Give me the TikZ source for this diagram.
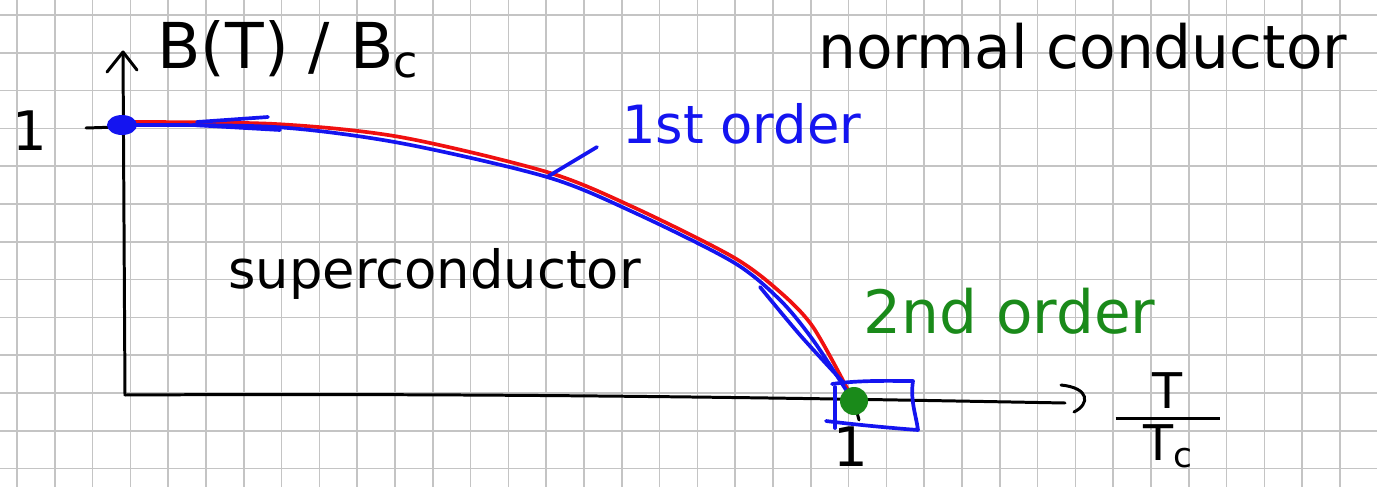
\documentclass[tikz,border=0pt]{standalone}
\usepackage{fontspec}
\setmainfont{DejaVu Sans}
\usetikzlibrary{positioning}
\definecolor{gridgray}{HTML}{C4C4C4}
\definecolor{penblue}{HTML}{1414F0}
\definecolor{penred}{HTML}{F01010}
\definecolor{pengreen}{HTML}{1A8A1A}

\begin{document}
\begin{tikzpicture}[
x=0.02cm, y=-0.02cm,
gridline/.style={draw=gridgray, line width=1pt},
pen/.style={line width=2.1pt, line cap=round, line join=round},
axis/.style={pen, draw=black, line width=1.7pt},
hand/.style={inner sep=0pt, anchor=base west},
size/.style={font=\fontsize{#1}{#1}\selectfont}
]
\useasboundingbox (0,0) rectangle (1377,487);
\fill[white] (0,0) rectangle (1377,487);
\foreach \gx in {17,54.8,...,1377}
  \draw[gridline] (\gx,0) -- (\gx,487);
\foreach \gy in {15,52.8,...,487}
  \draw[gridline] (0,\gy) -- (1377,\gy);

% axes
\coordinate (origin) at (125,395);
\coordinate (ytop) at (123,52);
\coordinate (xend) at (1065,403);
\draw[axis] (origin) -- (ytop);
\draw[axis] (107,72) -- (ytop) -- (137,70);
\draw[axis] (origin) .. controls (500,393) and (800,398) .. (xend);
\draw[axis] (1061,385) .. controls (1090,388) and (1090,404) .. (1074,412);
\draw[axis] (86,128) -- (118,127);
\draw[axis] (855,405) -- (859,420);

% labels
\node[hand, size=36] (ylabel) at (157,68) {B(T) / B\textsubscript{c}};
\node[hand, size=34] (normal) at (818,68) {normal conductor};
\node[hand, size=30] (super) at (228,288) {superconductor};
\node[hand, size=30, text=penblue] (first) at (622,143) {1st order};
\node[hand, size=34, text=pengreen] (second) at (863,333) {2nd order};
\node[hand, size=31] (yone) at (12,150) {1};
\node[hand, size=31] (xone) at (833,466) {1};
\node[size=28, inner sep=0pt] (ratio) at (1168,420)
  {\shortstack{T\\[2pt]\rule{2.1cm}{1.5pt}\\[0pt]T\textsubscript{c}}};

% transition lines
\draw[pen, penred] plot[smooth] coordinates {(128,122) (275,124) (400,137) (547,172) (633,207) (733,257) (780,292) (813,327) (848,390)};
\draw[pen, penblue] plot[smooth] coordinates {(122,125) (275,127) (400,143) (547,177) (633,212) (733,262) (780,300) (813,340) (848,393)};
\draw[pen, penblue] plot[smooth] coordinates {(760,287) (800,335) (843,382)};
\draw[pen, penblue] (197,122) -- (268,117);
\draw[pen, penblue] (193,125) -- (280,130);
\coordinate (hit) at (547,177);
\coordinate (tail) at (597,147);
\draw[pen, penblue] (tail) -- (hit);

% end points
\fill[penblue] (122,125) ellipse [x radius=15, y radius=10];
\draw[pen, penblue] (832,384) .. controls (860,380) and (890,381) .. (913,381)
  .. controls (910,400) and (916,415) .. (918,430)
  .. controls (890,428) and (850,424) .. (826,421);
\draw[pen, penblue] (835,387) -- (835,428);
\fill[pengreen] (854,401) circle [radius=14];
\end{tikzpicture}
\end{document}
